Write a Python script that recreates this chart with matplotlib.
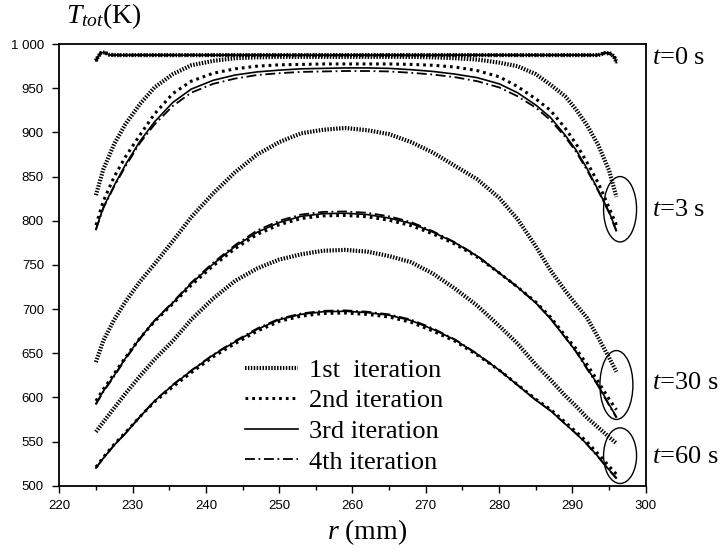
import numpy as np
import matplotlib
matplotlib.use("Agg")
import matplotlib.pyplot as plt
from matplotlib.patches import Ellipse
from matplotlib.ticker import MultipleLocator

plt.rcParams['mathtext.fontset'] = 'custom'
plt.rcParams['mathtext.rm'] = 'Liberation Serif'
plt.rcParams['mathtext.it'] = 'Liberation Serif:italic'

# radial positions (mm)
r_grid = [225, 226, 227.5, 229, 231, 233, 235.5, 238, 241, 244, 247, 250, 253, 256, 259,
          262, 265, 268, 271, 274, 277, 280, 282.5, 285, 287, 289, 290.5, 292, 293.5, 295, 296]

# t = 0 s (all iterations coincide)
r_t0 = [225, 225.3, 225.7, 226.2, 226.8, 227.5, 240, 260, 280, 293.5, 294.5, 295.3, 295.8, 296]
T_t0 = [981, 986, 990, 990.5, 988, 987.5, 987.5, 987.5, 987.5, 987.5, 990, 989, 984, 979]

# t = 3 s
T_t3_it1 = [829, 858, 887, 909, 932, 951, 966, 976, 981, 984, 985, 985.5, 985.5, 985.5, 985.5,
            985.5, 985.5, 985.5, 985, 984, 982.5, 979, 975, 966, 954, 941, 926, 908, 886, 857, 827]
T_t3_it2 = [795, 822, 850, 872, 897, 921, 944, 958, 967, 972, 975, 976.5, 977, 977.5, 977.5,
            977.5, 977.5, 977, 976, 974, 970, 963, 952, 938, 925, 905, 887, 866, 843, 815, 795]
T_t3_it3 = [790, 815, 840, 863, 890, 912, 934, 949, 959, 965, 968.5, 970.5, 972, 972.5, 973,
            973, 972.5, 971, 969, 966, 962, 955, 945, 931, 917, 897, 880, 859, 835, 810, 789]
T_t3_it4 = [790, 814, 839, 861, 888, 909, 930, 945, 955, 961, 965, 967, 968.5, 969, 969.5,
            969.5, 969, 967.5, 965.5, 962.5, 958, 951, 941, 928, 914, 895, 878, 857, 834, 809, 788]

# t = 30 s
T_t30_it1 = [640, 664, 688, 708, 731, 751, 777, 804, 831, 855, 875, 889, 899, 903, 905,
             902.5, 898, 889, 877, 862, 847, 826, 802, 771, 744, 721, 705, 690, 668, 645, 629]
T_t30_it2 = [596, 609, 627, 645, 667, 686, 706, 727, 749, 768.5, 784.5, 795.5, 802.5, 805.5, 806,
             804.5, 800.5, 794.5, 785, 773.5, 759, 741, 725, 708, 691, 670, 655, 637, 618, 598, 586]
T_t30_it3 = [593, 607, 625, 644, 667, 687, 707, 729, 751, 771, 787, 798, 805, 808, 808.5,
             807, 803, 797, 787, 775, 760, 741, 725, 707, 689, 668, 652, 633, 614, 592, 578]
T_t30_it4 = [592, 606, 624, 643, 666, 687, 708, 730, 752.5, 772.5, 789, 800, 807, 810, 810.5,
             809, 805, 798.5, 788, 775.5, 760.5, 741, 725, 707, 689.5, 668, 651.5, 632, 613, 591, 577]

# t = 60 s
T_t60_it1 = [561, 572, 588, 604, 624, 643, 664, 688, 712, 732, 746, 756, 762, 766, 767,
             765, 760, 753, 740, 723, 704, 681, 661, 637, 620, 602, 590, 577, 566, 555, 548]
T_t60_it2 = [521, 532, 547, 560, 578, 595, 612, 628, 646, 661, 675, 686, 692, 695, 695.5,
             694, 691, 685, 675, 663.5, 648, 631, 614.5, 598, 586.5, 572, 561, 549.5, 536, 522, 513]
T_t60_it3 = [520, 531, 546, 559, 578, 596, 614, 630, 648, 663, 677, 688, 694, 697, 697.5,
             696, 693, 687, 677, 665, 649, 631, 614, 597, 585, 570, 559, 547, 533, 518, 509]
T_t60_it4 = [520, 531, 546, 559, 578, 596, 614.5, 630.5, 648.5, 664, 678, 689, 695, 698, 698.5,
             697, 694, 688, 678, 665.5, 649.5, 631, 614, 597, 585, 570, 559, 546.5, 532.5, 517.5, 508]

labels = ["1st  iteration", "2nd iteration", "3rd iteration", "4th iteration"]
y_ticks = [500, 550, 600, 650, 700, 750, 800, 850, 900, 950, 1000]
y_tick_labels = ["500", "550", "600", "650", "700", "750", "800", "850", "900", "950", "1 000"]

styles = [
    dict(lw=3.0, ls=(0, (0.35, 0.35))),
    dict(lw=2.2, ls=(0, (0.9, 1.3))),
    dict(lw=1.2, ls='-'),
    dict(lw=1.3, ls=(0, (5.5, 2, 1, 2))),
]

series = [
    [T_t3_it1, T_t30_it1, T_t60_it1],
    [T_t3_it2, T_t30_it2, T_t60_it2],
    [T_t3_it3, T_t30_it3, T_t60_it3],
    [T_t3_it4, T_t30_it4, T_t60_it4],
]

fig = plt.figure(figsize=(7.21, 5.51), dpi=100)
ax = fig.add_axes([0.0822, 0.1185, 0.8134, 0.8015])

for i, st in enumerate(styles):
    ax.plot(r_t0, T_t0, color='black', lw=st['lw'], ls=st['ls'])
    for j, T in enumerate(series[i]):
        ax.plot(r_grid, T, color='black', lw=st['lw'], ls=st['ls'],
                label=labels[i] if j == 0 else None)

# circles marking the outer-edge region
for cx, cy, h in [(296.5, 813, 74), (296.0, 614, 78), (296.5, 534, 63)]:
    ax.add_patch(Ellipse((cx, cy), 4.5, h, fill=False, color='black', lw=1.0))

ax.set_xlim(220, 300)
ax.set_ylim(500, 1000)
ax.xaxis.set_major_locator(MultipleLocator(10))
ax.xaxis.set_minor_locator(MultipleLocator(5))
ax.set_yticks(y_ticks)
ax.set_yticklabels(y_tick_labels)
ax.tick_params(which='major', direction='out', length=5, width=1, labelsize=9.5)
ax.tick_params(which='minor', direction='out', length=3, width=1)
ax.tick_params(axis='x', pad=5)
ax.tick_params(axis='y', pad=6)
for lab in ax.get_xticklabels() + ax.get_yticklabels():
    lab.set_fontfamily('Liberation Sans')
for sp in ax.spines.values():
    sp.set_linewidth(1.3)

leg = ax.legend(loc='center', bbox_to_anchor=(0.4855, 0.158), frameon=False,
                prop={'family': 'Liberation Serif', 'size': 19},
                handlelength=2.0, handletextpad=0.4, labelspacing=0.27,
                borderpad=0, borderaxespad=0)

# time labels at right
for txt, yv in [("$t$=0 s", 984), ("$t$=3 s", 812), ("$t$=30 s", 616), ("$t$=60 s", 532)]:
    ax.text(1.011, yv, txt, transform=ax.get_yaxis_transform(), fontsize=19,
            family='Liberation Serif', ha='left', va='center', clip_on=False)

fig.text(66 / 721, 0.970, "$T_{tot}$(K)", fontsize=20, family='Liberation Serif',
         ha='left', va='center')
fig.text(0.509, 0.0345, "$r$ (mm)", fontsize=20, family='Liberation Serif',
         ha='center', va='center')

fig.savefig("out.png", dpi=100)
